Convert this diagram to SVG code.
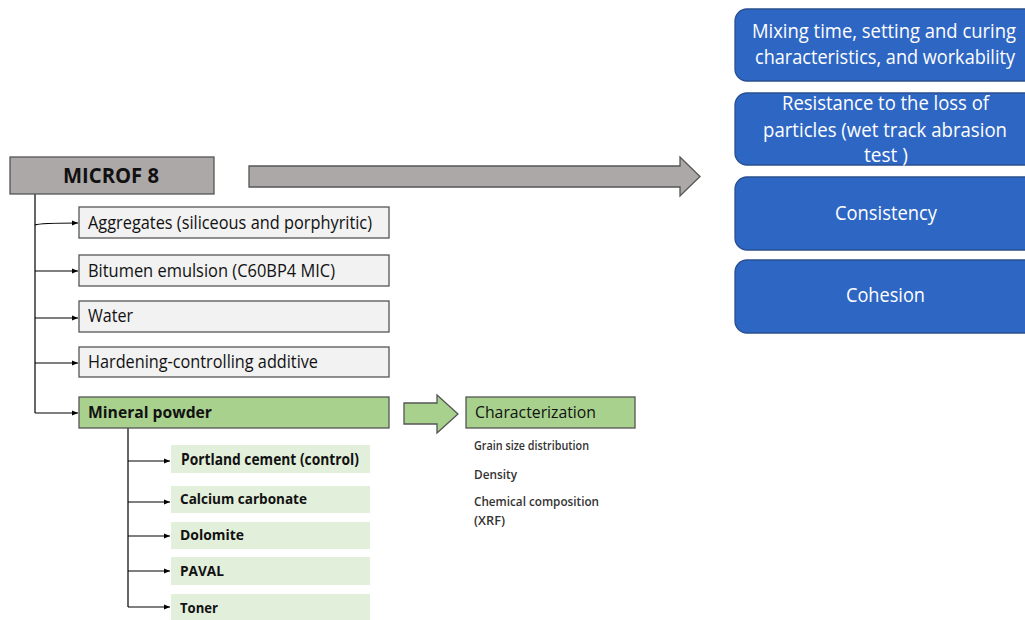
<svg xmlns="http://www.w3.org/2000/svg" width="1025" height="620" viewBox="0 0 1025 620">
<style>
.t{font-family:"Open Sans","Liberation Sans",sans-serif;fill:#111}
.b{font-weight:bold}
.box{fill:#F2F2F2;stroke:#555;stroke-width:1.3}
.green{fill:#A9D18E;stroke:#555;stroke-width:1.3}
.lg{fill:#E2EFDA}
.blue{fill:#2E66C4;stroke:#2A4F8F;stroke-width:1.3}
.wt{font-family:"Open Sans","Liberation Sans",sans-serif;fill:#fff;font-size:19.5px}
.c{stroke:#000;stroke-width:1.2;fill:none}
.s{font-family:"Open Sans","Liberation Sans",sans-serif;fill:#333;font-size:12px;font-weight:600}
</style>
<defs>
<marker id="ah" viewBox="0 0 10 10" refX="10" refY="5" markerWidth="6" markerHeight="6" orient="auto" markerUnits="userSpaceOnUse">
<path d="M0,1 L10,5 L0,9 z" fill="#000"/>
</marker>
</defs>
<rect width="1025" height="620" fill="#fff"/>
<g id="connectors">
<path class="c" d="M35,194 V413"/>
<path class="c" marker-end="url(#ah)" d="M35,225 Q40,223 78,223"/>
<path class="c" marker-end="url(#ah)" d="M35,271 H78"/>
<path class="c" marker-end="url(#ah)" d="M35,318 H78"/>
<path class="c" marker-end="url(#ah)" d="M35,363 H78"/>
<path class="c" marker-end="url(#ah)" d="M35,413 H78"/>
<path class="c" d="M128,428 V607"/>
<path class="c" marker-end="url(#ah)" d="M128,461 H170"/>
<path class="c" marker-end="url(#ah)" d="M128,502 H170"/>
<path class="c" marker-end="url(#ah)" d="M128,536 H170"/>
<path class="c" marker-end="url(#ah)" d="M128,571 H170"/>
<path class="c" marker-end="url(#ah)" d="M128,607 H170"/>
<polygon id="bigArrow" points="249,166 680,166 680,157 700,176.5 680,196 680,187 249,187" fill="#ADA8A8" stroke="#555" stroke-width="1.3"/>
<polygon id="greenArrow" points="404,403 437,403 437,395 458,414 437,433 437,424 404,424" fill="#A9D18E" stroke="#555" stroke-width="1.3"/>
</g>
<g id="microf">
<rect x="10" y="157" width="204" height="37" fill="#ADA8A8" stroke="#555" stroke-width="1.3"/>
<text class="t b" x="111" y="183" font-size="21" text-anchor="middle" textLength="96" lengthAdjust="spacingAndGlyphs">MICROF 8</text>
</g>
<g id="aggregates">
<rect class="box" x="79" y="207" width="310" height="31"/>
<text class="t" x="88" y="229" font-size="17.5" textLength="284" lengthAdjust="spacingAndGlyphs">Aggregates (siliceous and porphyritic)</text>
</g>
<g id="bitumen">
<rect class="box" x="79" y="255" width="310" height="31"/>
<text class="t" x="88" y="277" font-size="17.5" textLength="247" lengthAdjust="spacingAndGlyphs">Bitumen emulsion (C60BP4 MIC)</text>
</g>
<g id="water">
<rect class="box" x="79" y="301" width="310" height="31"/>
<text class="t" x="88" y="322" font-size="17.5" textLength="45" lengthAdjust="spacingAndGlyphs">Water</text>
</g>
<g id="hardening">
<rect class="box" x="79" y="347" width="310" height="30"/>
<text class="t" x="88" y="368" font-size="17.5" textLength="230" lengthAdjust="spacingAndGlyphs">Hardening-controlling additive</text>
</g>
<g id="mineral">
<rect class="green" x="79" y="397" width="310" height="31"/>
<text class="t b" x="88" y="418" font-size="16.5" textLength="124" lengthAdjust="spacingAndGlyphs">Mineral powder</text>
</g>
<g id="portland">
<rect class="lg" x="171" y="445" width="199" height="28"/>
<text class="t b" x="181" y="465" font-size="15.5" textLength="178" lengthAdjust="spacingAndGlyphs">Portland cement (control)</text>
</g>
<g id="calcium">
<rect class="lg" x="171" y="486" width="199" height="27"/>
<text class="t b" x="180" y="504" font-size="15" textLength="127" lengthAdjust="spacingAndGlyphs">Calcium carbonate</text>
</g>
<g id="dolomite">
<rect class="lg" x="171" y="522" width="199" height="27"/>
<text class="t b" x="180" y="540" font-size="15" textLength="64" lengthAdjust="spacingAndGlyphs">Dolomite</text>
</g>
<g id="paval">
<rect class="lg" x="171" y="557" width="199" height="28"/>
<text class="t b" x="180" y="576" font-size="15" textLength="44" lengthAdjust="spacingAndGlyphs">PAVAL</text>
</g>
<g id="toner">
<rect class="lg" x="171" y="594" width="199" height="27"/>
<text class="t b" x="180" y="613" font-size="15" textLength="38" lengthAdjust="spacingAndGlyphs">Toner</text>
</g>
<g id="characterization">
<rect class="green" x="466" y="397" width="169" height="31"/>
<text class="t" x="475" y="418" font-size="16.5" fill="#222" textLength="121" lengthAdjust="spacingAndGlyphs">Characterization</text>
<text class="s" x="474" y="450" textLength="115" lengthAdjust="spacingAndGlyphs">Grain size distribution</text>
<text class="s" x="474" y="479" textLength="43" lengthAdjust="spacingAndGlyphs">Density</text>
<text class="s" x="474" y="506" textLength="125" lengthAdjust="spacingAndGlyphs">Chemical composition</text>
<text class="s" x="474" y="525" textLength="31" lengthAdjust="spacingAndGlyphs">(XRF)</text>
</g>
<g id="mixing">
<rect class="blue" x="735" y="9" width="310" height="72" rx="12"/>
<text class="wt" x="752" y="38" textLength="264" lengthAdjust="spacingAndGlyphs">Mixing time, setting and curing</text>
<text class="wt" x="755" y="64" textLength="260" lengthAdjust="spacingAndGlyphs">characteristics, and workability</text>
</g>
<g id="resistance">
<rect class="blue" x="735" y="93" width="310" height="72" rx="12"/>
<text class="wt" x="782" y="110" textLength="207" lengthAdjust="spacingAndGlyphs">Resistance to the loss of</text>
<text class="wt" x="763" y="137" textLength="244" lengthAdjust="spacingAndGlyphs">particles (wet track abrasion</text>
<text class="wt" x="864" y="162" textLength="44" lengthAdjust="spacingAndGlyphs">test )</text>
</g>
<g id="consistency">
<rect class="blue" x="735" y="177" width="310" height="73" rx="12"/>
<text class="wt" x="835" y="220" textLength="102" lengthAdjust="spacingAndGlyphs">Consistency</text>
</g>
<g id="cohesion">
<rect class="blue" x="735" y="260" width="310" height="73" rx="12"/>
<text class="wt" x="846" y="302" textLength="79" lengthAdjust="spacingAndGlyphs">Cohesion</text>
</g>
</svg>
